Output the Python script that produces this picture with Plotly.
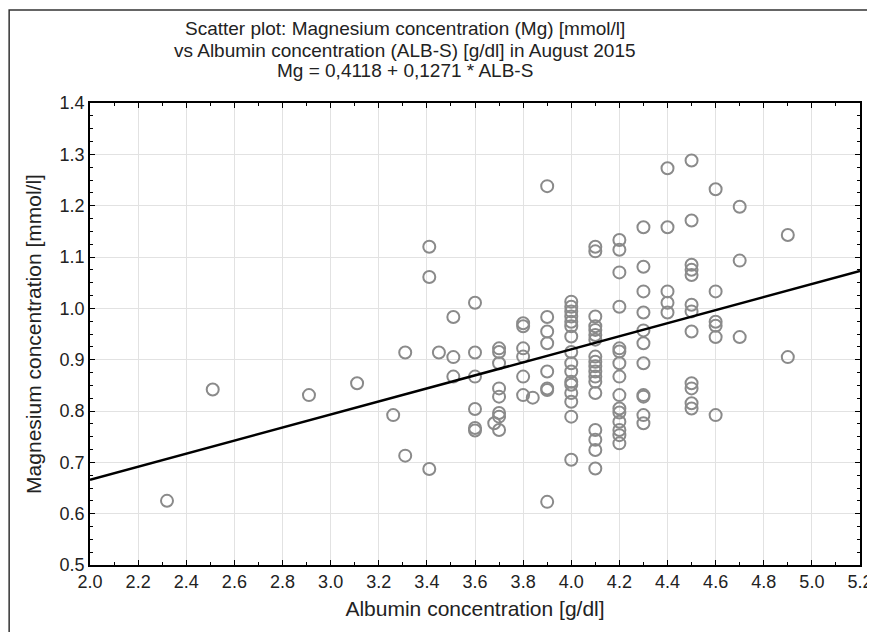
import plotly.graph_objects as go

# albumin [g/dl] and magnesium [mmol/l]
albumin = [
    2.32, 2.51, 2.91, 3.11, 3.26, 3.31, 3.31, 3.41, 3.41, 3.41, 3.45,
    3.51, 3.51, 3.51,
    3.6, 3.6, 3.6, 3.6, 3.6, 3.6,
    3.7, 3.7, 3.7, 3.7, 3.7, 3.7, 3.7, 3.68, 3.7,
    3.8, 3.8, 3.8, 3.8, 3.8, 3.8, 3.84,
    3.9, 3.9, 3.9, 3.9, 3.9, 3.9, 3.9, 3.9,
    4.0, 4.0, 4.0, 4.0, 4.0, 4.0, 4.0, 4.0, 4.0, 4.0, 4.0, 4.0, 4.0, 4.0, 4.0, 4.0,
    4.1, 4.1, 4.1, 4.1, 4.1, 4.1, 4.1, 4.1, 4.1, 4.1, 4.1, 4.1, 4.1, 4.1, 4.1, 4.1, 4.1, 4.1,
    4.2, 4.2, 4.2, 4.2, 4.2, 4.2, 4.2, 4.2, 4.2, 4.2, 4.2, 4.2, 4.2, 4.2, 4.2,
    4.3, 4.3, 4.3, 4.3, 4.3, 4.3, 4.3, 4.3, 4.3, 4.3, 4.3,
    4.4, 4.4, 4.4, 4.4, 4.4,
    4.5, 4.5, 4.5, 4.5, 4.5, 4.5, 4.5, 4.5, 4.5, 4.5, 4.5, 4.5,
    4.6, 4.6, 4.6, 4.6, 4.6, 4.6,
    4.7, 4.7, 4.7,
    4.9, 4.9,
]
magnesium = [
    0.625, 0.842, 0.831, 0.854, 0.792, 0.914, 0.713, 1.120, 1.061, 0.687, 0.914,
    0.983, 0.905, 0.867,
    1.011, 0.914, 0.867, 0.804, 0.767, 0.762,
    0.922, 0.915, 0.893, 0.844, 0.828, 0.796, 0.789, 0.776, 0.763,
    0.971, 0.965, 0.922, 0.906, 0.867, 0.831, 0.826,
    1.238, 0.983, 0.955, 0.932, 0.877, 0.844, 0.841, 0.623,
    1.013, 1.003, 0.994, 0.984, 0.974, 0.965, 0.945, 0.915, 0.893, 0.877, 0.857,
    0.851, 0.835, 0.818, 0.789, 0.705,
    1.120, 1.111, 0.984, 0.965, 0.958, 0.948, 0.939, 0.906, 0.896, 0.887, 0.877,
    0.867, 0.857, 0.835, 0.763, 0.744, 0.724, 0.688,
    1.133, 1.114, 1.070, 1.003, 0.922, 0.916, 0.893, 0.867, 0.831, 0.805, 0.797,
    0.779, 0.763, 0.753, 0.737,
    1.158, 1.081, 1.033, 0.992, 0.957, 0.932, 0.893, 0.831, 0.828, 0.792, 0.776,
    1.273, 1.158, 1.033, 1.011, 0.992,
    1.288, 1.171, 1.085, 1.075, 1.065, 1.007, 0.994, 0.955, 0.854, 0.844, 0.815, 0.805,
    1.232, 1.033, 0.974, 0.966, 0.944, 0.792,
    1.198, 1.093, 0.944,
    1.143, 0.905,
]

intercept = 0.4118
slope = 0.1271
x_range = [2.0, 5.2]
y_range = [0.5, 1.4]

title_lines = [
    "Scatter plot: Magnesium concentration (Mg) [mmol/l]",
    "vs Albumin concentration (ALB-S) [g/dl] in August 2015",
    "Mg = 0,4118 + 0,1271 * ALB-S",
]

fit_y = [intercept + slope * v for v in x_range]

fig = go.Figure()
fig.add_trace(go.Scatter(
    x=albumin, y=magnesium, mode="markers",
    marker=dict(symbol="circle-open", size=12, color="#8a8a8a",
                line=dict(width=2, color="#8a8a8a")),
    showlegend=False,
))
fig.add_trace(go.Scatter(
    x=x_range, y=fit_y, mode="lines",
    line=dict(color="black", width=2.5), showlegend=False,
))

font = "Liberation Sans, Arial, sans-serif"
axis_common = dict(
    showline=True, linecolor="black", linewidth=1.5, mirror="ticks",
    ticks="inside", ticklen=5, tickcolor="black", automargin=False,
    showgrid=True, gridcolor="#e2e2e2", gridwidth=1, zeroline=False,
    tickfont=dict(family=font, size=18, color="#222"),
)
fig.update_xaxes(range=x_range, dtick=0.2, tickformat=".1f",
                 minor=dict(dtick=0.1, ticks="inside", ticklen=3, tickcolor="black", showgrid=False),
                 title=dict(text="Albumin concentration [g/dl]", font=dict(family=font, size=21, color="#222"), standoff=10),
                 **axis_common)
fig.update_yaxes(range=y_range, dtick=0.1, tickformat=".1f",
                 minor=dict(dtick=0.025, ticks="inside", ticklen=3, tickcolor="black", showgrid=False),
                 title=dict(text="Magnesium concentration [mmol/l]", font=dict(family=font, size=21, color="#222"), standoff=12),
                 **axis_common)

# page body adds an 8px margin, so the figure is shrunk to fit the window
fig.update_layout(
    width=867, height=624,
    margin=dict(l=82, r=15, t=95, b=67),
    plot_bgcolor="white", paper_bgcolor="white",
    font=dict(family=font, color="#222"),
)
for line, ypos in zip(title_lines, [1.1623, 1.1147, 1.0693]):
    fig.add_annotation(
        text=line, xref="paper", yref="paper", x=0.409, y=ypos,
        xanchor="center", yanchor="middle", showarrow=False,
        font=dict(family=font, size=19, color="#222"),
    )
# outer frame round the whole chart
fig.add_shape(type="rect", xref="paper", yref="paper",
              x0=-0.105, x1=1.016, y0=-0.3, y1=1.2013,
              line=dict(color="#333", width=1.5), layer="below")

fig.write_html("out.html")
